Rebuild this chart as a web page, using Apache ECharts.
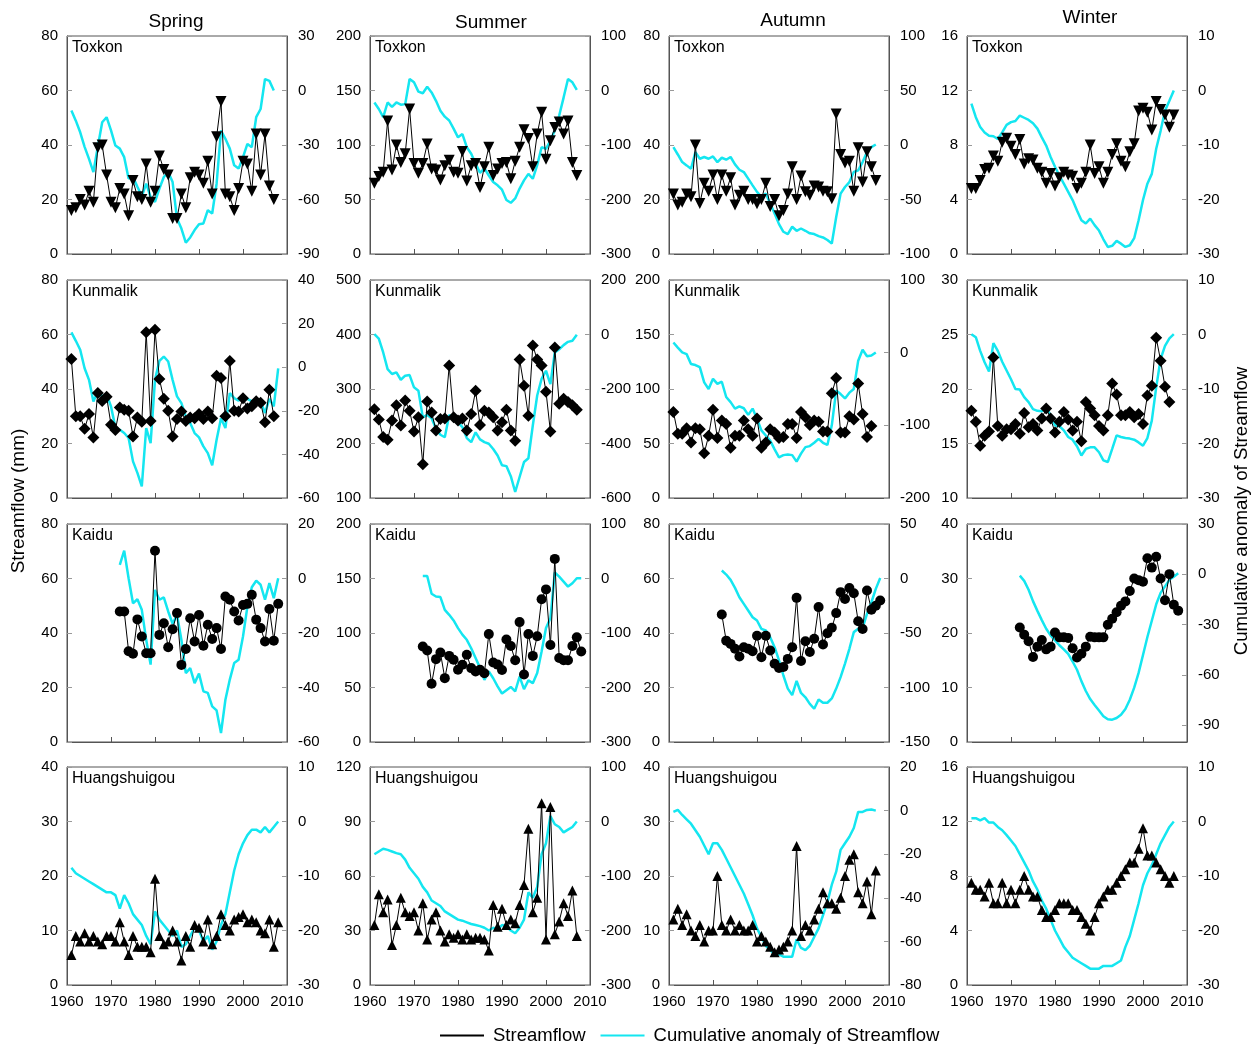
<!DOCTYPE html>
<html>
<head>
<meta charset="utf-8">
<script src="https://cdn.jsdelivr.net/npm/echarts@6/dist/echarts.min.js"></script>
<style>
html, body { margin: 0; padding: 0; background: #fff; }
#chart { width: 1251px; height: 1044px; }
</style>
</head>
<body>
<div id="chart"></div>
<script>
const seasons = ['Spring', 'Summer', 'Autumn', 'Winter'];
const stations = ['Toxkon', 'Kunmalik', 'Kaidu', 'Huangshuigou'];
const startYears = [1961, 1961, 1972, 1961];

// [min, max, step] of the streamflow axis, row = station, col = season
const leftAxes = [
  [[0, 80, 20], [0, 200, 50], [0, 80, 20], [0, 16, 4]],
  [[0, 80, 20], [100, 500, 100], [0, 200, 50], [10, 30, 5]],
  [[0, 80, 20], [0, 200, 50], [0, 80, 20], [0, 40, 10]],
  [[0, 40, 10], [0, 120, 30], [0, 40, 10], [0, 16, 4]]
];
// [min, max, step] of the cumulative anomaly axis
const rightAxes = [
  [[-90, 30, 30], [-300, 100, 100], [-100, 100, 50], [-30, 10, 10]],
  [[-60, 40, 20], [-600, 200, 200], [-200, 100, 100], [-30, 10, 10]],
  [[-60, 20, 20], [-300, 100, 100], [-150, 50, 50], [-100, 30, 30]],
  [[-30, 10, 10], [-300, 100, 100], [-80, 20, 20], [-30, 10, 10]]
];

// Toxkon
const toxkonSpringFlow = [16,17,20,18,23,19,39,40,29,19,17,24,22,14,27,21,20,33,19,23,36,31,29,13,13,22,17,28,30,29,26,34,22,43,56,22,21,16,24,34,33,23,44,29,44,25,20];
const toxkonSpringCum = [-11,-16.6,-23,-31,-37.6,-44.9,-31,-17.5,-14.7,-22,-30.3,-32,-36.7,-48.5,-47.6,-53,-58.2,-51.3,-58.6,-61.3,-54,-47.6,-44.9,-50.4,-70.5,-76,-83.8,-80.9,-76.8,-73.6,-73.2,-65.9,-67.7,-51.3,-22,-26.6,-32,-41.2,-43,-36.7,-29.4,-31.2,-14.7,-10.2,6.3,5.3,0];
const toxkonSummerFlow = [65,71,75,122,77,100,84,92,133,83,74,83,101,78,77,68,81,86,75,74,94,67,81,83,61,80,98,72,78,83,84,69,85,98,114,106,80,110,130,87,104,116,121,110,122,84,72];
const toxkonSummerCum = [-22,-34,-49,-22,-30,-22,-26,-25,21,15,-2,-5,7,-3.5,-19,-37,-48,-55,-70,-86,-80,-104,-116,-134,-151,-143,-156,-168,-174,-182,-201,-206,-198,-180,-165,-153,-162,-137,-104,-107,-92,-73,-46,-13,21,15,1];
const toxkonAutumnFlow = [22,18,19,22,21,40,18.5,26,23,29,20,29,23,28,18,21.6,23,20,20,18.4,20,26,17.4,20,14,16,22,32,20,28.6,22.8,21.6,25,24.6,23,22.8,20.3,51.4,36.5,33.4,34,23,39,26.4,37.5,32,27];
const toxkonAutumnCum = [-2,-8.7,-15.7,-18.7,-21.8,-6.5,-12.6,-11,-12.6,-10.5,-15.7,-11.7,-13.5,-11,-17.8,-22.7,-24.8,-30.9,-37,-43,-47.6,-44.6,-53.7,-62.9,-72.6,-79.6,-81.7,-75,-78.7,-76.6,-78.7,-81,-81.7,-83.6,-84.8,-87.2,-90.3,-66,-44.6,-38.5,-34,-24.8,-23.3,-15.7,-6.5,-2,0.5];
const toxkonWinterFlow = [4.8,4.8,5.4,6.2,6.3,7.2,6.8,8.2,8.5,7.9,7.3,8.4,6.6,7.0,6.9,6.3,6.0,5.2,5.9,5.0,5.6,6.0,5.8,5.7,4.8,5.2,6.0,8.0,5.9,6.4,5.2,6.0,7.3,8.1,6.8,6.4,7.5,8.1,10.5,10.7,10.4,9.1,11.2,10.6,10.2,9.3,10.2];
const toxkonWinterCum = [-2.4,-4.9,-6.7,-7.7,-8.3,-8.4,-8.9,-7.7,-6.3,-5.8,-5.6,-4.6,-5.0,-5.4,-6.0,-7.0,-8.6,-10.1,-12.2,-14.0,-15.6,-17.1,-18.6,-20.1,-22.0,-23.8,-24.4,-23.5,-24.7,-25.7,-27.3,-28.7,-28.5,-27.6,-28.1,-28.7,-28.4,-27.1,-23.8,-20.1,-17.1,-15.3,-10.7,-7.4,-3.7,-1.9,0];

// Kunmalik
const kunmalikSpringFlow = [51,30,30,25.4,30.8,22.2,38.5,35.6,37.2,26.9,25,33.2,32.4,32,22.6,29.5,28,60.8,28.3,61.7,43.7,36.4,32,22.6,29,31.7,28.3,29.5,29.3,30.8,29,31.7,29.3,44.9,44,30,50.3,32,31.7,36.6,32.8,33.7,35.5,35,27.8,39.7,30];
const kunmalikSpringCum = [16,12.1,8,-0.5,-5.8,-15.7,-11.1,-13.4,-12.4,-18,-27.6,-28.7,-30.2,-32.5,-43.2,-48.5,-54.7,-27.9,-34.8,-5.8,2.9,4.9,2.6,-5.8,-13.4,-16.5,-22.6,-25.6,-30.2,-32.2,-36.3,-39.4,-45,-33.3,-23.4,-27.9,-11.9,-14.2,-15.4,-12.7,-14.5,-15.7,-14.5,-15.7,-21,-14.5,-18,-0.5];
const kunmalikSummerFlow = [263,244,212,207,242,270,233,279,260,222,248,162,277,257,224,245,246,343,248,242,246,224,254,297,234,260,257,248,224,239,262,224,205,354,306,251,380,354,343,295,222,376,273,282,276,270,262];
const kunmalikSummerCum = [1,-15,-66,-127,-145,-139,-166,-151,-149,-194,-206,-304,-295,-307,-346,-368,-377,-295,-307,-322,-340,-380,-395,-359,-385,-395,-401,-420,-444,-480,-483,-520,-578,-523,-468,-454,-334,-224,-163,-133,-182,-66,-54,-39,-27,-23,-1];
const kunmalikAutumnFlow = [79,59,59,64,51,64,63,41,57,81,55,71,68,46,57,57,71,63,57,73,46,51,63,60,55,56,68,68,55,79,74,67,71,70,61,61,96,110,60,60,75,72,105,77,56,66];
const kunmalikAutumnCum = [14,7,0.3,-2,-15.7,-17,-20,-40.8,-50,-36,-43,-40,-61,-68,-77,-73.8,-76.5,-85.6,-77,-91,-107,-114,-121,-133,-144,-141,-140,-141,-150,-139,-130,-128.6,-124,-118.6,-124,-127,-100,-52,-57,-63,-55,-50,-11,4,-5,-4,0.3];
const kunmalikWinterFlow = [18.0,17.0,14.8,15.7,16.1,22.9,16.6,15.7,16.3,16.3,16.8,15.9,17.8,16.5,16.8,16.2,17.3,18.2,17.3,16.0,17.0,17.9,17.2,16.2,17.0,15.2,18.8,18.2,17.6,16.6,16.2,17.6,20.5,19.5,17.6,17.6,17.9,17.4,17.7,16.8,19.4,20.3,24.7,22.6,20.2,18.8];
const kunmalikWinterCum = [0.06,-0.5,-3,-5.1,-6.8,-1.6,-3,-5,-6.6,-8.2,-10,-10.1,-11.5,-12.4,-13.7,-14,-14.1,-13.4,-14.8,-16.7,-16.8,-17.6,-18.8,-19.3,-20.5,-22.2,-21,-20.7,-20.7,-21.6,-23.1,-23.4,-21,-18.5,-18.8,-19,-19.1,-19.3,-19.8,-20.4,-19,-15.8,-9.7,-4.5,-2.1,-0.7,0.06];

// Kaidu
const kaiduSpringFlow = [47.9,47.9,33.3,32.4,45,38.7,32.6,32.6,70.2,39.3,43.6,34.8,41.4,47.3,28.3,34.1,45.4,36.9,46.6,35.3,43,37.8,41.8,34.1,53.4,52.2,47.9,44.6,50.3,50.7,54,44.9,41.8,36.9,48.8,37.2,50.7];
const kaiduSpringCum = [5,10.2,0.1,-9.1,-7.6,-11.5,-22.5,-31.6,-4.2,-7.8,-6.9,-12.1,-16.6,-13.3,-22.5,-34.7,-32.9,-38.4,-34.9,-41.4,-42,-46.9,-48.4,-56.7,-44.5,-37.1,-31,-29.8,-21.3,-10.3,-3.2,-0.8,-2.3,-7.8,-1.7,-7.2,0.1];
const kaiduSummerFlow = [87.6,84,53.4,76,82,58.6,79,75.4,66.3,70.8,80,67.8,64.7,66.3,63,99,73,71,66,94,88,75,110,62,99,79,97,131,140,89,168,77,75,75,88,96,83];
const kaiduSummerCum = [4.7,4.7,-28,-33,-34,-57.6,-66.7,-77,-91,-103,-112.5,-128,-146,-164,-186,-170.5,-183,-198,-211,-205,-199,-207,-180,-203,-187,-192,-173.6,-134,-91,-73,11,3.5,-5.6,-14.8,-8.7,0.5,0.5];
const kaiduAutumnFlow = [46.8,37.2,36,34.2,31.4,34.8,34.2,33.3,39,31.1,39,33.6,28.7,27.2,27.5,30.5,34.8,52.9,29.7,37,33,37.9,49.5,35.8,39.9,41.9,47.3,55,52.5,56.5,54.6,44.3,41.5,55.6,48.5,50,51.9];
const kaiduAutumnCum = [7.3,3.6,-1.3,-8.6,-17.2,-23.3,-29.4,-35.5,-38.5,-46.2,-47.7,-53.8,-63,-75.2,-89,-101,-107,-94,-105,-109,-115,-119.5,-111,-114,-114,-110,-101,-90.5,-78,-64.5,-49.2,-46.2,-45.3,-32.4,-21.8,-9.5,0.5];
const kaiduWinterFlow = [21,19.7,18.5,15.6,17.5,18.7,17,17.5,20.1,19.2,19.2,19.1,17.2,15.5,16.2,17.5,19.3,19.2,19.2,19.2,21.5,22.6,23.8,25,25.8,27.7,30,29.7,29.4,33.7,32,34,30,26,30.8,25.2,24.1];
const kaiduWinterCum = [-0.8,-3.9,-9.2,-16,-21.8,-27.3,-32.5,-36.4,-39.4,-42.3,-44.8,-47.5,-52,-56.9,-63.7,-69.6,-74.4,-77.9,-81.2,-84.6,-86.5,-86.7,-85.7,-83.8,-80.3,-74.8,-67.6,-58.8,-48.1,-37.4,-27.7,-17.9,-11.1,-7.2,-3.3,-1.4,0.6];

// Huangshuigou
const huangSpringFlow = [5.5,9,8,9.5,8,9,8,7.5,9,9,8,11.5,8,5.5,9,7,7,7,6,19.5,9,7.5,8,10,8,4.5,9,7,11,10.5,8,12,7.5,9,13,11,10,12,12.5,13,11.5,12,11.5,10,9.5,12,7,11.5];
const huangSpringCum = [-8.5,-9.5,-10,-10.5,-11,-11.5,-12,-12.5,-13,-13,-13.5,-16,-13.5,-15,-17,-18,-19,-21,-22.5,-16.5,-18,-19,-20,-21,-20,-23,-22.5,-21,-19.5,-20,-22,-21,-23.5,-22,-19,-17,-13,-9,-6,-4,-2.5,-1.5,-1.5,-2,-1,-2,-1,0];
const huangSummerFlow = [33,50,40,47,22,33,48,40,38,40,30,45,25,36,40,30,24,28,26,28,25,28,25,26,26,25,19,44,32,42,33,36,34,44,55,86,40,48,100,25,98,28,35,45,38,52,27];
const huangSummerCum = [-60,-55,-50,-52,-55,-58,-60,-70,-85,-95,-105,-120,-130,-145,-150,-155,-165,-170,-175,-180,-182,-185,-188,-190,-192,-195,-200,-195,-198,-190,-192,-200,-205,-195,-180,-130,-140,-120,-60,-40,10,-5,-10,-20,-15,-10,0];
const huangAutumnFlow = [12,14,11,13,10,9,11,8,10,10,20,11,10,12,10,11,10,10,11,8,9,8,7,6,6.5,7,8,10,25.5,9,11,10,12,14,17,15,15,14,16,20,23,24,17,15,19,13,21];
const huangAutumnCum = [-0.6,0.3,-2,-4,-6,-9,-12,-16,-20,-15,-15,-18,-22,-26,-30,-34,-38,-43,-48,-54,-58,-62,-64,-66,-66,-67,-67,-67,-59,-63,-64,-62,-58,-54,-48,-42,-34,-28,-18,-15,-12,-8,-0.6,-0.6,0.3,0.5,0];
const huangWinterFlow = [7.5,7,7,6.5,7.5,6,6,7.5,6,7,6,7,8,7,6.5,6.5,5.5,5,5,5.5,6,6,6,5.5,5.5,5,4.5,4,5,6,6.5,7,7,7.5,8,8.5,9,9,10,11.5,9.5,9.5,9,8.5,8,7.5,8];
const huangWinterCum = [0.6,0.6,0.2,0.6,-0.2,-0.2,-1,-1.6,-2.5,-3.5,-4.5,-6,-7.5,-9,-11,-12.5,-14.5,-16,-18,-20,-21.5,-23,-24,-25,-25.5,-26,-26.5,-27,-27,-27,-26.5,-26.5,-26.5,-26,-25.5,-23,-21,-18,-15,-11.7,-9.5,-8,-6,-4,-2.5,-1,0];

const flowData = [
  [toxkonSpringFlow, toxkonSummerFlow, toxkonAutumnFlow, toxkonWinterFlow],
  [kunmalikSpringFlow, kunmalikSummerFlow, kunmalikAutumnFlow, kunmalikWinterFlow],
  [kaiduSpringFlow, kaiduSummerFlow, kaiduAutumnFlow, kaiduWinterFlow],
  [huangSpringFlow, huangSummerFlow, huangAutumnFlow, huangWinterFlow]
];
const cumData = [
  [toxkonSpringCum, toxkonSummerCum, toxkonAutumnCum, toxkonWinterCum],
  [kunmalikSpringCum, kunmalikSummerCum, kunmalikAutumnCum, kunmalikWinterCum],
  [kaiduSpringCum, kaiduSummerCum, kaiduAutumnCum, kaiduWinterCum],
  [huangSpringCum, huangSummerCum, huangAutumnCum, huangWinterCum]
];

// layout
const FONT = '"Liberation Sans", Arial, sans-serif';
const colLefts = [67, 370, 669, 967];
const rowTops = [36, 280, 524, 767];
const W = 220, H = 218;
const CYAN = '#14E6F0';
const AXIS_COLOR = '#555';

// marker per station: inverted triangle, diamond, circle, triangle
const markers = [
  { symbol: 'triangle', rotate: 180, size: 11 },
  { symbol: 'diamond', rotate: 0, size: 12 },
  { symbol: 'circle', rotate: 0, size: 10 },
  { symbol: 'triangle', rotate: 0, size: 10 }
];

const tickList = ([min, max, step]) => {
  const out = [];
  for (let v = max; v >= min - 1e-9; v -= step) out.push(v);
  return out;
};

const grids = [], xAxes = [], yAxes = [], series = [], graphics = [];

for (let r = 0; r < 4; r++) {
  for (let c = 0; c < 4; c++) {
    const i = r * 4 + c;
    grids.push({
      left: colLefts[c], top: rowTops[r], width: W, height: H,
      show: true, borderColor: AXIS_COLOR, borderWidth: 1, backgroundColor: 'transparent'
    });
    xAxes.push({
      type: 'value', gridIndex: i, min: 1960, max: 2010, interval: 10,
      axisLine: { show: true, onZero: false, lineStyle: { color: AXIS_COLOR } },
      axisTick: { show: true, inside: true, length: 5, lineStyle: { color: AXIS_COLOR } },
      axisLabel: {
        show: r === 3, margin: 9, color: '#000', fontSize: 15, fontFamily: FONT,
        formatter: v => String(v)
      },
      splitLine: { show: false }
    });
    const la = leftAxes[r][c];
    yAxes.push({
      type: 'value', gridIndex: i, position: 'left',
      min: la[0], max: la[1], interval: la[2],
      axisLine: { show: true, onZero: false, lineStyle: { color: AXIS_COLOR } },
      axisTick: { show: true, inside: true, length: 5, lineStyle: { color: '#999' } },
      axisLabel: { margin: 9, color: '#000', fontSize: 15, fontFamily: FONT },
      splitLine: { show: false }
    });
    const ra = rightAxes[r][c];
    const rTicks = tickList(ra);
    yAxes.push({
      type: 'value', gridIndex: i, position: 'right',
      min: ra[0], max: ra[1],
      axisLine: { show: true, onZero: false, lineStyle: { color: AXIS_COLOR } },
      axisTick: { show: true, inside: true, length: 5, customValues: rTicks, lineStyle: { color: '#999' } },
      axisLabel: { margin: 11, color: '#000', fontSize: 15, fontFamily: FONT, customValues: rTicks },
      splitLine: { show: false }
    });

    const start = startYears[r];
    series.push({
      name: 'Cumulative anomaly of Streamflow', type: 'line',
      xAxisIndex: i, yAxisIndex: 2 * i + 1,
      data: cumData[r][c].map((v, k) => [start + k, v]),
      symbol: 'none', showSymbol: false,
      lineStyle: { color: CYAN, width: 2.5 }, itemStyle: { color: CYAN },
      z: 2
    });
    const m = markers[r];
    series.push({
      name: 'Streamflow', type: 'line',
      xAxisIndex: i, yAxisIndex: 2 * i,
      data: flowData[r][c].map((v, k) => [start + k, v]),
      symbol: m.symbol, symbolSize: m.size, symbolRotate: m.rotate,
      lineStyle: { color: '#000', width: 1 }, itemStyle: { color: '#000' },
      z: 3
    });

    // station name in the top-left corner
    graphics.push({
      type: 'text', left: colLefts[c] + 5, top: rowTops[r] + 4,
      style: { text: stations[r], fill: '#000', font: '16px ' + FONT }
    });
  }
}

// season titles
const titleX = [176, 491, 793, 1090];
const titleY = [22, 23, 21, 18];
seasons.forEach((s, c) => {
  graphics.push({
    type: 'text', x: titleX[c], y: titleY[c],
    style: { text: s, fill: '#000', font: '19px ' + FONT, textAlign: 'center', textVerticalAlign: 'middle' }
  });
});

// axis names
graphics.push({
  type: 'text', x: 19, y: 501, rotation: Math.PI / 2,
  style: { text: 'Streamflow (mm)', fill: '#000', font: '19px ' + FONT, textAlign: 'center', textVerticalAlign: 'middle' }
});
graphics.push({
  type: 'text', x: 1242, y: 511, rotation: Math.PI / 2,
  style: { text: 'Cumulative anomaly of Streamflow', fill: '#000', font: '18.7px ' + FONT, textAlign: 'center', textVerticalAlign: 'middle' }
});

const chart = echarts.init(document.getElementById('chart'));
chart.setOption({
  backgroundColor: '#fff',
  animation: false,
  grid: grids,
  xAxis: xAxes,
  yAxis: yAxes,
  series: series,
  legend: {
    data: ['Streamflow', 'Cumulative anomaly of Streamflow'],
    left: 435, top: 1021,
    icon: 'rect', itemWidth: 44, itemHeight: 2, itemGap: 15,
    selectedMode: false,
    textStyle: { fontSize: 18.5, fontFamily: FONT, color: '#000', padding: [0, 0, 0, 4] }
  },
  graphic: graphics
});
</script>
</body>
</html>
